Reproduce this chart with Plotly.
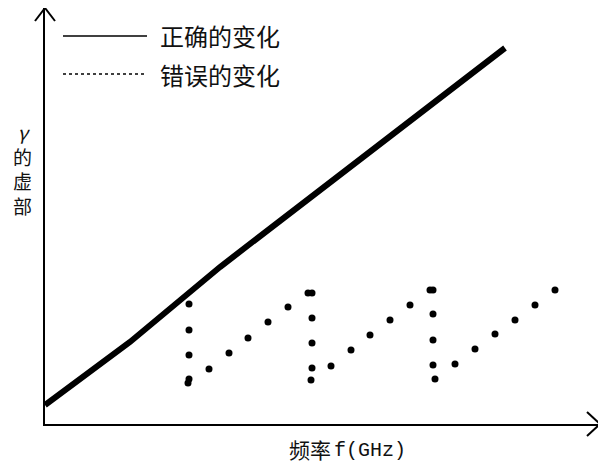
import plotly.graph_objects as go

# Correct variation (thick solid line): frequency vs imaginary part of gamma
correct_f = [0.0, 8.5, 17.5, 46.0]
correct_g = [1.9, 8.2, 15.7, 37.6]

# Wrong variation (dotted points)
wrong_f = [14.4, 14.4, 14.4, 14.4, 14.3,
           16.4, 18.4, 20.3, 22.3, 24.3, 26.3,
           26.7, 26.7, 26.7, 26.7, 26.6,
           28.6, 30.6, 32.5, 34.5, 36.5, 38.5,
           38.8, 38.8, 38.8, 38.8, 39.0,
           41.0, 43.0, 45.0, 47.0, 49.0, 51.0]
wrong_g = [12.0, 9.4, 6.9, 4.5, 4.1,
           5.5, 7.1, 8.6, 10.2, 11.7, 13.1,
           13.1, 10.6, 8.1, 5.6, 4.4,
           5.8, 7.4, 8.9, 10.4, 11.9, 13.4,
           13.4, 11.0, 8.4, 5.9, 4.5,
           6.0, 7.5, 9.0, 10.4, 11.9, 13.4]

legend_labels = ["正确的变化", "错误的变化"]
y_label = "<i>γ</i><br>的<br>虚<br>部"
x_label_cn = "频率"
x_label_unit = "f(GHz)"

# page has an 8px body margin; figure sized so it fits the 606x468 window
OFF = 8
W, H = 606 - OFF, 468 - OFF
# plot area in page pixels: x 45..600, y 8..424
PX0, PX1, PY0, PY1 = 45, 600, 8, 424
L = PX0 - OFF
R = W - (PX1 - OFF)
T = PY0 - OFF
B = H - (PY1 - OFF)
PW, PH = PX1 - PX0, PY1 - PY0


def px(x):
    return (x - PX0) / PW


def py(y):
    return (PY1 - y) / PH


fig = go.Figure()
fig.add_trace(go.Scatter(x=correct_f, y=correct_g, mode="lines",
                         line=dict(color="black", width=6),
                         showlegend=False, hoverinfo="skip"))
fig.add_trace(go.Scatter(x=wrong_f, y=wrong_g, mode="markers",
                         marker=dict(color="black", size=7),
                         showlegend=False, hoverinfo="skip"))

shapes = []
# arrow heads on axes
for (xa, ya) in [(35, 21), (55, 21)]:
    shapes.append(dict(type="line", xref="paper", yref="paper",
                       x0=px(xa), y0=py(ya), x1=px(45), y1=py(8),
                       line=dict(color="black", width=2)))
for (xa, ya) in [(587, 412), (587, 436)]:
    shapes.append(dict(type="line", xref="paper", yref="paper",
                       x0=px(xa), y0=py(ya), x1=px(600), y1=py(424),
                       line=dict(color="black", width=2)))
# legend keys
shapes.append(dict(type="line", xref="paper", yref="paper",
                   x0=px(63), y0=py(36), x1=px(147), y1=py(36),
                   line=dict(color="black", width=1.3)))
shapes.append(dict(type="line", xref="paper", yref="paper",
                   x0=px(63), y0=py(74), x1=px(147), y1=py(74),
                   line=dict(color="black", width=1.3, dash="dot")))

cjk = "Noto Sans CJK SC"
ann = []
ann.append(dict(xref="paper", yref="paper", x=px(158), y=py(36),
                xanchor="left", yanchor="middle", showarrow=False,
                text=legend_labels[0], font=dict(family=cjk, size=24, color="#111")))
ann.append(dict(xref="paper", yref="paper", x=px(158), y=py(74),
                xanchor="left", yanchor="middle", showarrow=False,
                text=legend_labels[1], font=dict(family=cjk, size=24, color="#111")))
ann.append(dict(xref="paper", yref="paper", x=px(22), y=py(168),
                xanchor="center", yanchor="middle", showarrow=False,
                text=y_label, font=dict(family=cjk, size=19, color="#111")))
ann.append(dict(xref="paper", yref="paper", x=px(287), y=py(449),
                xanchor="left", yanchor="middle", showarrow=False,
                text=x_label_cn, font=dict(family=cjk, size=21, color="#111")))
ann.append(dict(xref="paper", yref="paper", x=px(332), y=py(450),
                xanchor="left", yanchor="middle", showarrow=False,
                text=x_label_unit, font=dict(family="Liberation Mono", size=20, color="#111")))

fig.update_layout(
    width=W, height=H,
    margin=dict(l=L, r=R, t=T, b=B, pad=0),
    paper_bgcolor="white", plot_bgcolor="white",
    shapes=shapes, annotations=ann,
    xaxis=dict(range=[0, 55.5], showgrid=False, zeroline=False,
               showticklabels=False, ticks="", showline=True,
               linecolor="black", linewidth=1.5, fixedrange=True),
    yaxis=dict(range=[0, 41.6], showgrid=False, zeroline=False,
               showticklabels=False, ticks="", showline=True,
               linecolor="black", linewidth=1.5, fixedrange=True),
    showlegend=False,
)

fig.write_html("out.html")
